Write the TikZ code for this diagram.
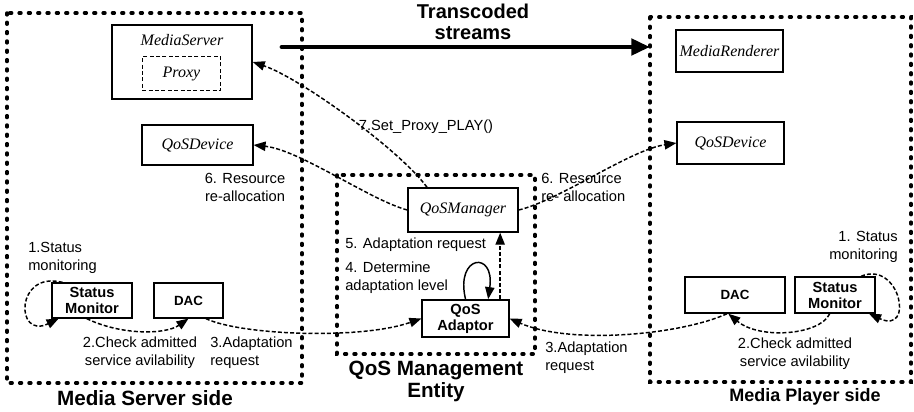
\documentclass[tikz,border=0pt]{standalone}
\usepackage{fontspec}
\setmainfont{Liberation Sans}
\newfontfamily\devfont{Liberation Serif}
\usetikzlibrary{arrows.meta,calc}

\begin{document}
\begin{tikzpicture}[x=0.75pt,y=-0.75pt]

\tikzset{zone/.style={line width=2.6pt, dash pattern=on 1.4pt off 5.6pt, line cap=round},
dev/.style={draw, line width=1.1pt, inner sep=0pt, font=\devfont\itshape\fontsize{12}{13}\selectfont},
devname/.style={inner sep=0pt, font=\devfont\itshape\fontsize{12}{13}\selectfont},
unit/.style={draw, line width=1.1pt, inner sep=0pt, align=center, font=\bfseries\fontsize{11}{12}\selectfont},
conn/.style={line width=1.1pt, dash pattern=on 3pt off 1.6pt, -{Triangle[length=9pt,width=7pt]}},
selfloop/.style={line width=1.1pt, -{Triangle[length=9pt,width=7pt]}},
lbl/.style={inner sep=0pt, font=\fontsize{11}{13.5}\selectfont},
title/.style={inner sep=0pt, align=center, font=\bfseries\fontsize{15.5}{16.5}\selectfont}}

\useasboundingbox (0,0) rectangle (914,411);

% the three sides
\draw[zone] (7,13) rectangle (302,383);
\draw[zone] (337,175) rectangle (535,354);
\draw[zone] (650,17) rectangle (911,382);

% media server side
\node[dev, minimum width=105pt, minimum height=55.5pt] (mserver) at (182,62) {};
\node[devname] (mservername) at (182,40) {MediaServer};
\node[dev, line width=0.9pt, dash pattern=on 3pt off 1.8pt, minimum width=59pt, minimum height=25pt] (proxy) at (181.5,73.5) {Proxy};
\node[dev, minimum width=83pt, minimum height=30pt] (qdevL) at (197.5,145) {QoSDevice};
\node[unit, minimum width=60pt, minimum height=26pt] (smonL) at (92,300.5) {Status\\Monitor};
\node[unit, font=\bfseries\fontsize{10}{12}\selectfont, minimum width=52pt, minimum height=26pt] (dacL) at (188.5,300.5) {DAC};

% qos management entity
\node[dev, minimum width=82.5pt, minimum height=33pt] (qmgr) at (463,210) {QoSManager};
\node[unit, minimum width=65pt, minimum height=28pt] (qadapt) at (465.5,318.5) {QoS\\Adaptor};

% media player side
\node[dev, minimum width=80pt, minimum height=31.5pt] (mrend) at (729.5,51) {MediaRenderer};
\node[dev, minimum width=80pt, minimum height=31.5pt] (qdevR) at (730.5,143) {QoSDevice};
\node[unit, font=\bfseries\fontsize{10}{12}\selectfont, minimum width=75pt, minimum height=27pt] (dacR) at (735,295) {DAC};
\node[unit, minimum width=60pt, minimum height=27pt] (smonR) at (835,295) {Status\\Monitor};

% streams
\coordinate (tsfrom) at (282,47);
\coordinate (tsto) at (650,47);
\draw[line width=3.6pt, line cap=round, -{Triangle[length=14pt,width=12pt]}] (tsfrom) -- (tsto);
\node[title, font=\bfseries\fontsize{15}{16}\selectfont] (tslbl) at (473,22) {Transcoded\\streams};

% messages
\draw[conn] ([xshift=-27pt]qmgr.north) .. controls (400,150) and (300,78) .. (mserver.east);
\draw[conn] (qmgr.west) .. controls (370,200) and (300,150) .. (qdevL.east);
\draw[conn] (qmgr.east) .. controls (560,200) and (630,150) .. (qdevR.west);
\draw[conn] ([xshift=-22pt]smonL.north) .. controls (15,270) and (15,340) .. ([xshift=-25pt]smonL.south);
\draw[conn] ([xshift=-4pt]smonL.south) .. controls (120,335) and (165,335) .. (dacL.south);
\draw[conn] ([xshift=13pt]dacL.south) .. controls (240,335) and (360,340) .. (qadapt.west);
\draw[conn] ([xshift=-11pt]smonR.north east) .. controls (900,260) and (915,335) .. ([xshift=-5pt]smonR.south east);
\draw[conn] ([xshift=-4pt]smonR.south) .. controls (820,335) and (760,340) .. ([xshift=-5pt]dacR.south);
\draw[conn] ([xshift=-6pt]dacR.south) .. controls (680,335) and (570,345) .. (qadapt.east);
\draw[conn] ([xshift=26pt]qadapt.north) -- ([xshift=26pt]qadapt.north |- qmgr.south);
\draw[selfloop] (qadapt.north) .. controls (455,255) and (495,250) .. ([xshift=17pt]qadapt.north);

% labels
\node[lbl, align=center] (reallocL) at (245,187) {6. Resource\\re-allocation};
\node[lbl] (setproxy) at (426,127) {7.Set\_Proxy\_PLAY()};
\node[lbl, align=left, anchor=west] (reallocR) at (541,187) {6. Resource\\re- allocation};
\node[lbl, align=left, anchor=west] (monL) at (28,258) {1.Status\\monitoring};
\node[lbl, align=center] (checkL) at (140,353) {2.Check admitted\\service avilability};
\node[lbl, align=left, anchor=west] (reqL) at (210,353) {3.Adaptation\\request};
\node[lbl, anchor=west] (adreq) at (345,245) {5. Adaptation request};
\node[lbl, align=left, anchor=west] (determ) at (345,278) {4. Determine\\adaptation level};
\node[lbl, align=left, anchor=west] (reqR) at (545,358) {3.Adaptation\\request};
\node[lbl, align=right, anchor=east] (monR) at (898,247) {1. Status\\monitoring};
\node[lbl, align=center] (checkR) at (795,354) {2.Check admitted\\service avilability};

% sides
\node[title] (serverside) at (145,398) {Media Server side};
\node[title] (qosentity) at (436,381) {QoS Management\\Entity};
\node[title, font=\bfseries\fontsize{13.5}{16}\selectfont] (playerside) at (805,397) {Media Player side};

\end{tikzpicture}
\end{document}
